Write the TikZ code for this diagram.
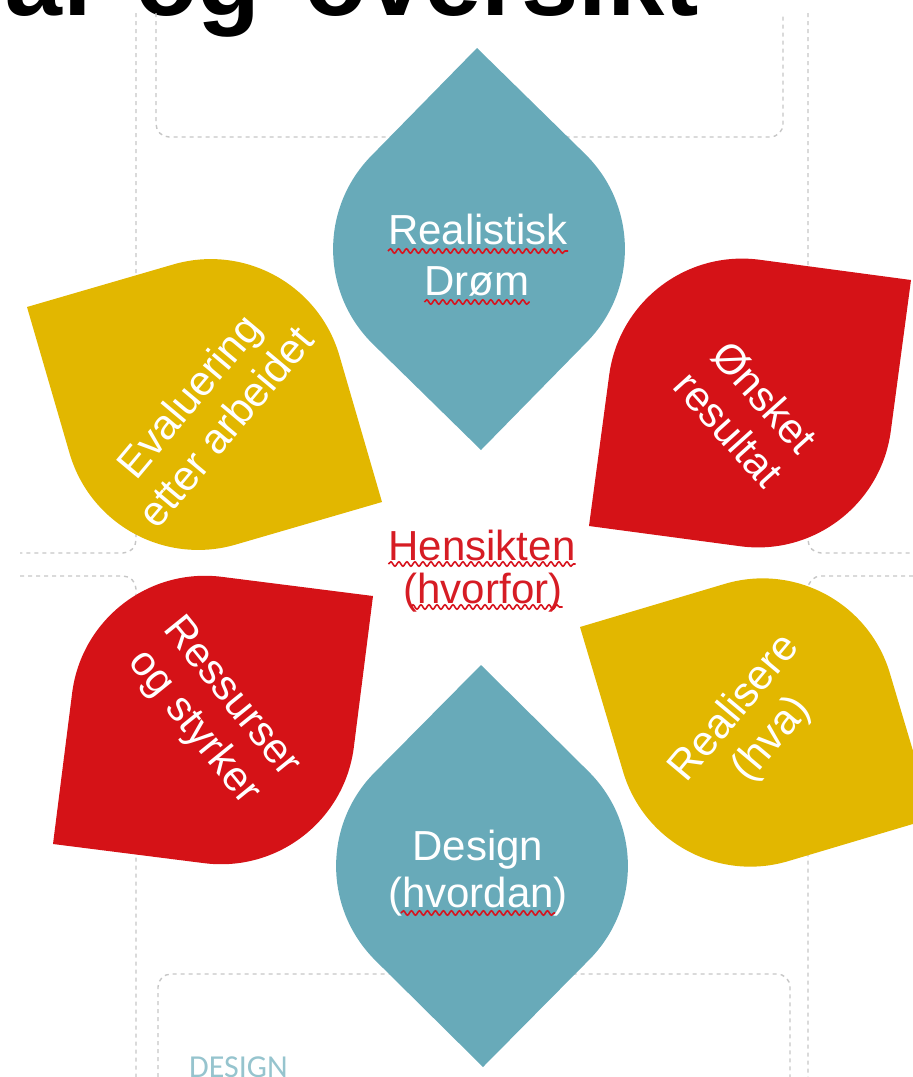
\documentclass[tikz,border=0pt]{standalone}
\usepackage{fontspec}
\setmainfont{Liberation Sans}
\newfontfamily\designfont{Carlito}
\usetikzlibrary{calc,decorations.pathmorphing}
\definecolor{pblue}{RGB}{104,170,185}
\definecolor{pred}{RGB}{213,18,23}
\definecolor{pyellow}{RGB}{226,183,0}
\definecolor{hred}{RGB}{214,28,36}
\definecolor{squigred}{RGB}{215,20,30}
\definecolor{guide}{RGB}{198,198,198}
\definecolor{designc}{RGB}{150,196,206}
\newcommand\petalR{0.468}
\newcommand\petalK{0.2095}
\newcommand\petal[4]{%
  \coordinate (#4-p) at #1;
  \coordinate (#4-q) at #2;
  \coordinate (#4-m) at ($(#4-p)!0.5!(#4-q)$);
  \coordinate (#4-a) at ($(#4-m)!1!90:(#4-q)$);
  \coordinate (#4-b) at ($(#4-m)!1!-90:(#4-q)$);
  \fill[#3] (#4-p) -- ($(#4-a)!\petalR!(#4-p)$)
    .. controls ($(#4-a)!\petalK!(#4-p)$) and ($(#4-a)!\petalK!(#4-q)$) .. ($(#4-a)!\petalR!(#4-q)$)
    -- (#4-q) -- ($(#4-b)!\petalR!(#4-q)$)
    .. controls ($(#4-b)!\petalK!(#4-q)$) and ($(#4-b)!\petalK!(#4-p)$) .. ($(#4-b)!\petalR!(#4-p)$)
    -- cycle;
}
\tikzset{
  guideline/.style={draw=guide, line width=1.4pt, dash pattern=on 4pt off 4pt, rounded corners=13pt},
  ptext/.style={text=white, font=\fontsize{42}{48}\selectfont, inner sep=0pt, align=center},
  htext/.style={text=hred, font=\fontsize{42}{47}\selectfont, inner sep=0pt},
  squig/.style={draw=squigred, line width=1.6pt, decorate, decoration={snake, segment length=8pt, amplitude=2.2pt}},
}
\begin{document}
\begin{tikzpicture}[x=1pt,y=-1pt]
\useasboundingbox (0,0) rectangle (913,1077);
% title (cropped at the top edge)
\node[anchor=base west, inner sep=0pt, font=\fontsize{103}{103}\selectfont\bfseries] (title) at (-80,15) {\spaceskip=0.42em Mål og oversikt};
% background guide lines
\draw[guideline] (136,13) -- (136,553) -- (20,553);
\draw[guideline] (20,576) -- (136,576) -- (136,1077);
\draw[guideline] (808,13) -- (808,553) -- (913,553);
\draw[guideline] (913,576) -- (808,576) -- (808,1077);
\draw[guideline] (156,13) -- (156,137) -- (783,137) -- (783,13);
\draw[guideline] (158,1077) -- (158,974) -- (790,974) -- (790,1077);
\node[anchor=base west, inner sep=0pt, text=designc, font=\designfont\fontsize{32}{32}\selectfont] (design) at (189,1077) {DESIGN};
% petals
\petal{(481,450)}{(477,48)}{pblue}{top}
\petal{(589,526)}{(911,280)}{pred}{ur}
\petal{(382,502)}{(27,307)}{pyellow}{ul}
\petal{(373,596)}{(53,844)}{pred}{ll}
\petal{(580,627)}{(933,818)}{pyellow}{lr}
\petal{(481,665)}{(483,1067)}{pblue}{bot}
% texts
\node[ptext, anchor=base] (real) at (478,244) {Realistisk};
\node[ptext, anchor=base] (drom) at (477,295) {Drøm};
\draw[squig] ([yshift=-7pt]real.base west) -- ([yshift=-7pt]real.base east);
\draw[squig] ([yshift=-7pt]drom.base west) -- ([yshift=-7pt]drom.base east);
\node[ptext, anchor=base] (des) at (478,860) {Design};
\node[ptext, anchor=base] (hvordan) at (478,907) {(hvordan)};
\draw[squig] ([xshift=13pt,yshift=-6pt]hvordan.base west) -- ([xshift=-13pt,yshift=-6pt]hvordan.base east);
\node[htext, anchor=base] (hens) at (482,560) {Hensikten};
\node[htext, anchor=base] (hvorfor) at (483,603) {(hvorfor)};
\draw[squig] ([yshift=-4pt]hens.base west) -- ([yshift=-4pt]hens.base east);
\draw[squig] ([xshift=7pt,yshift=-4pt]hvorfor.base west) -- ([yshift=-4pt]hvorfor.base east);
\node[ptext, rotate=50] (eval) at (207,411) {Evaluering\\etter arbeidet};
\node[ptext, rotate=-48] (onsk) at (747,413) {Ønsket\\resultat};
\node[ptext, rotate=-51] (ress) at (212,713) {Ressurser\\og styrker};
\node[ptext, rotate=50] (reals) at (754,724) {Realisere\\(hva)};
\end{tikzpicture}
\end{document}
